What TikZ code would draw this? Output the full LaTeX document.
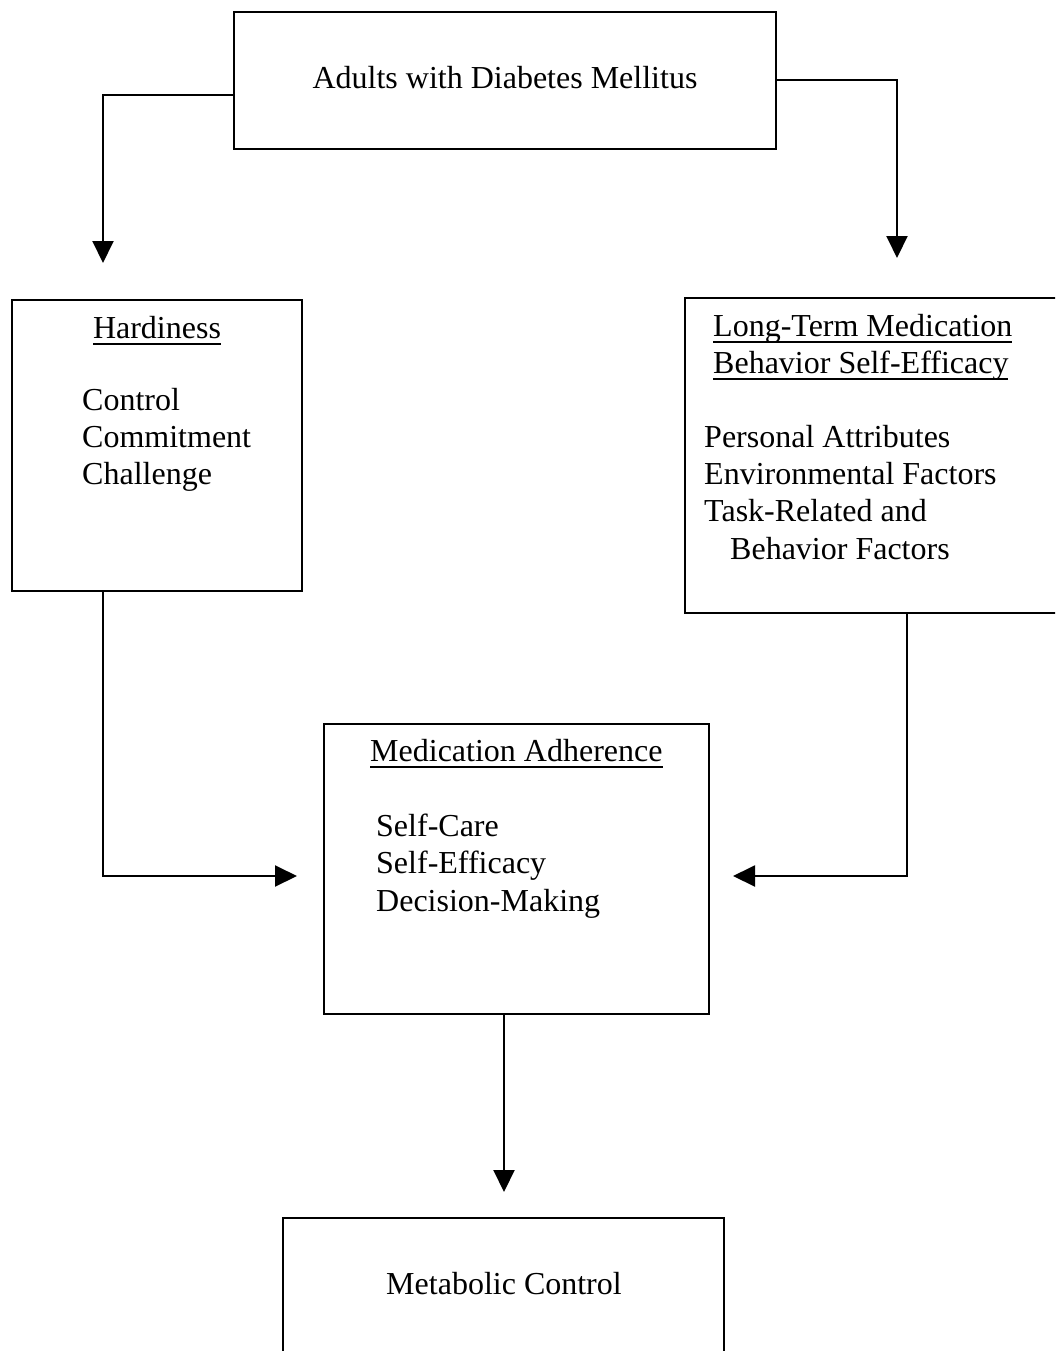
\documentclass[tikz,border=0pt]{standalone}
\usepackage{fontspec}
\setmainfont{Liberation Serif}
\usetikzlibrary{arrows.meta}
\newcommand\myul[1]{\setbox0=\hbox{#1}\rlap{\rule[-6.5pt]{\wd0}{1.5pt}}\box0}
\begin{document}
\begin{tikzpicture}[x=1pt,y=-1pt,
  box/.style={draw,line width=2pt,rectangle,anchor=north west,inner sep=0pt,outer sep=0pt},
  txt/.style={anchor=base west,inner sep=0pt,font=\fontsize{32}{37}\selectfont},
  ctxt/.style={anchor=base,inner sep=0pt,font=\fontsize{32}{37}\selectfont},
  arr/.style={line width=2pt,-{Triangle[length=22pt,width=21pt]}}]
\useasboundingbox (0,0) rectangle (1055,1351);
\clip (0,0) rectangle (1055,1351);
% boxes
\node[box,minimum width=542pt,minimum height=137pt] (top) at (234,12) {};
\node[box,minimum width=290pt,minimum height=291pt] (hd) at (12,300) {};
\node[box,minimum width=400pt,minimum height=315pt] (lt) at (685,298) {};
\node[box,minimum width=385pt,minimum height=290pt] (ma) at (324,724) {};
\node[box,minimum width=441pt,minimum height=200pt] (mc) at (283,1218) {};
% connector points
\coordinate (a1) at (103,263);
\coordinate (a2) at (897,258);
\coordinate (a3) at (297,876);
\coordinate (b2) at (907,876);
\coordinate (a4) at (733,876);
\coordinate (a5) at (504,1192);
% connectors
\draw[arr] ([yshift=-14.5pt]top.west) -| (a1);
\draw[arr] (top.east) -| (a2);
\draw[arr] (hd.south -| a1) |- (a3);
\draw[arr] (lt.south -| b2) -- (b2) -- (a4);
\draw[arr] (ma.south -| a5) -- (a5);
% texts
\node[ctxt] (t0) at (505,89) {Adults with Diabetes Mellitus};
\node[ctxt] (h0) at (157,338) {\myul{Hardiness}};
\node[txt] (h1) at (82,410) {Control};
\node[txt] (h2) at (82,447) {Commitment};
\node[txt] (h3) at (82,484) {Challenge};
\node[txt] (l0) at (713,336) {\myul{Long-Term Medication}};
\node[txt] (l1) at (713,373) {\myul{Behavior Self-Efficacy}};
\node[txt] (l2) at (704,447) {Personal Attributes};
\node[txt] (l3) at (704,484) {Environmental Factors};
\node[txt] (l4) at (704,521) {Task-Related and};
\node[txt] (l5) at (730,559) {Behavior Factors};
\node[txt] (m0) at (370,761) {\myul{Medication Adherence}};
\node[txt] (m1) at (376,836) {Self-Care};
\node[txt] (m2) at (376,873) {Self-Efficacy};
\node[txt] (m3) at (376,911) {Decision-Making};
\node[ctxt] (c0) at (504,1294) {Metabolic Control};
\end{tikzpicture}
\end{document}
